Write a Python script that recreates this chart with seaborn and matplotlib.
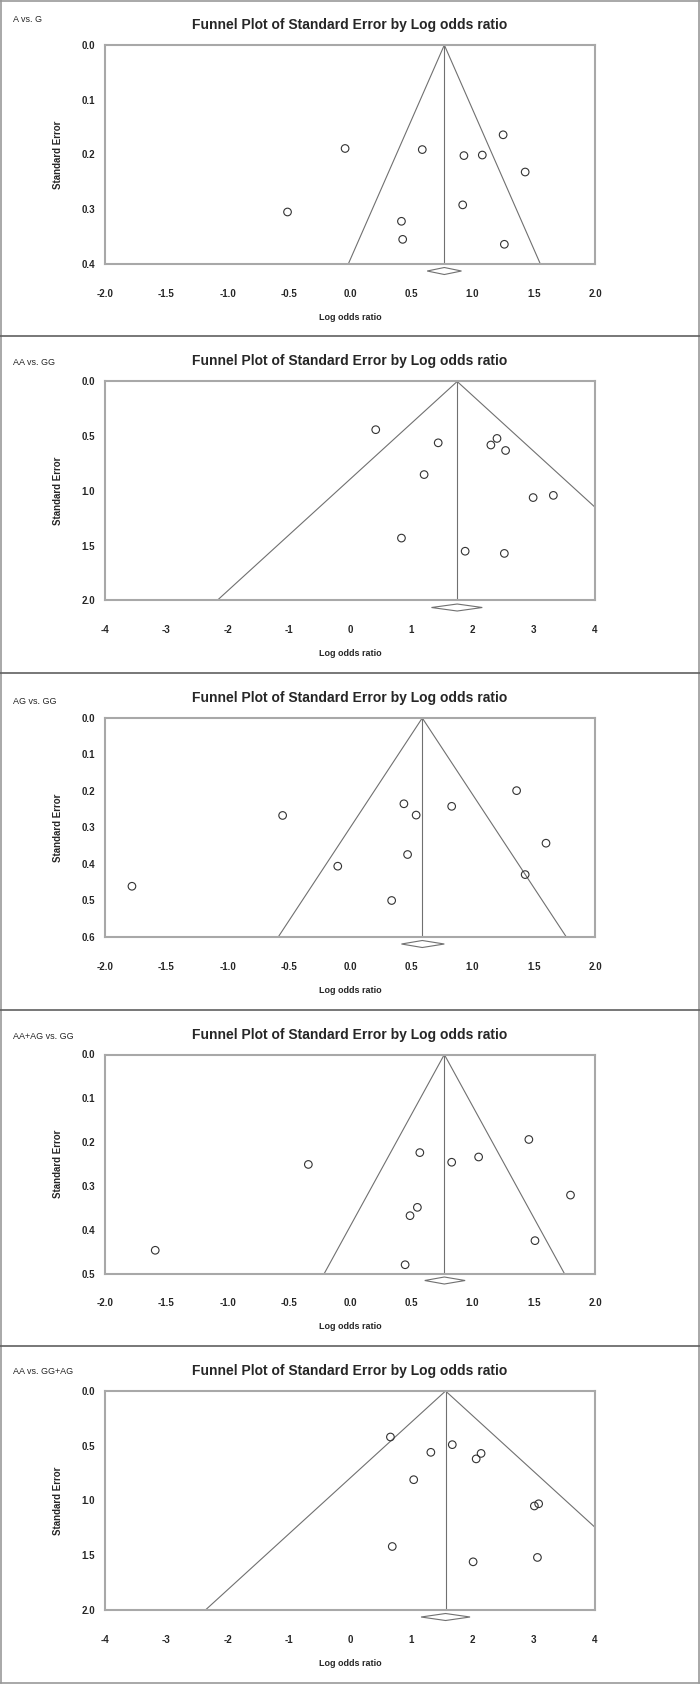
import numpy as np
import pandas as pd
import seaborn as sns
import matplotlib.pyplot as plt
from matplotlib.lines import Line2D

# %% Data

panel_names = ["A vs. G", "AA vs. GG", "AG vs. GG", "AA+AG vs. GG", "AA vs. GG+AG"]

lor_a_g = [1.25, -0.04, 0.59, 0.93, 1.08, 1.43, 0.92, -0.51, 0.42, 0.43, 1.26]
se_a_g = [0.164, 0.189, 0.191, 0.202, 0.201, 0.232, 0.292, 0.305, 0.322, 0.355, 0.364]

lor_aa_gg = [0.42, 1.44, 2.40, 2.30, 2.54, 1.21, 2.99, 3.32, 0.84, 1.88, 2.52]
se_aa_gg = [0.44, 0.56, 0.52, 0.58, 0.63, 0.85, 1.06, 1.04, 1.43, 1.55, 1.57]

lor_ag_gg = [1.36, 0.44, 0.83, -0.55, 0.54, 1.60, 0.47, -0.10, 1.43, -1.78, 0.34]
se_ag_gg = [0.199, 0.235, 0.242, 0.267, 0.266, 0.343, 0.374, 0.406, 0.429, 0.461, 0.500]

lor_dom = [1.46, 0.57, 1.05, 0.83, -0.34, 1.80, 0.55, 0.49, 1.51, -1.59, 0.45]
se_dom = [0.194, 0.224, 0.234, 0.246, 0.251, 0.321, 0.349, 0.368, 0.425, 0.447, 0.480]

lor_rec = [0.66, 1.67, 1.32, 2.14, 2.06, 1.04, 3.01, 3.08, 0.69, 3.06, 2.01]
se_rec = [0.42, 0.49, 0.56, 0.57, 0.62, 0.81, 1.05, 1.03, 1.42, 1.52, 1.56]

pooled_lor = [0.77, 1.75, 0.59, 0.77, 1.56]
pooled_lo = [0.63, 1.33, 0.42, 0.61, 1.16]
pooled_hi = [0.91, 2.16, 0.77, 0.94, 1.96]

x_limits = [(-2, 2), (-4, 4), (-2, 2), (-2, 2), (-4, 4)]
x_step = [0.5, 1, 0.5, 0.5, 1]
se_max = [0.4, 2.0, 0.6, 0.5, 2.0]
se_step = [0.1, 0.5, 0.1, 0.1, 0.5]

all_lor = [lor_a_g, lor_aa_gg, lor_ag_gg, lor_dom, lor_rec]
all_se = [se_a_g, se_aa_gg, se_ag_gg, se_dom, se_rec]

# %% Figure setup

W, H = 700, 1703
sns.set_style("white")
plt.rcParams["font.family"] = ["Liberation Sans", "DejaVu Sans"]
fig = plt.figure(figsize=(W / 100, H / 100), dpi=100)

ax_left, ax_right = 105, 595
ax_h = 219
panel_top = [0, 336.5, 673, 1009.5, 1346]
label_dy = [26, 19, 16, 18, 20]
spine_col = "#a8a8a8"
line_col = "#707070"


def fx(px):
    return px / W


def fy(py):
    return 1 - py / H


for i, name in enumerate(panel_names):
    top = panel_top[i] + 45
    ax = fig.add_axes([fx(ax_left), fy(top + ax_h), (ax_right - ax_left) / W, ax_h / H])

    df = pd.DataFrame({"lor": all_lor[i], "se": all_se[i]})
    sns.scatterplot(data=df, x="lor", y="se", ax=ax, marker="o", s=30,
                    facecolor="none", edgecolor="#333333", linewidth=0.8, zorder=3)

    m = pooled_lor[i]
    ymax = se_max[i]
    ax.plot([m - 1.96 * ymax, m, m + 1.96 * ymax], [ymax, 0, ymax],
            color=line_col, lw=0.8)
    ax.plot([m, m], [0, ymax], color=line_col, lw=0.8)

    # pooled estimate diamond below the axis
    trans = ax.get_xaxis_transform()
    ax.fill([pooled_lo[i], m, pooled_hi[i], m], [-0.032, -0.016, -0.032, -0.048],
            transform=trans, facecolor="white", edgecolor=line_col, lw=0.8, clip_on=False)

    x0, x1 = x_limits[i]
    ax.set_xlim(x0, x1)
    ax.set_ylim(ymax, 0)
    xt = np.arange(x0, x1 + 1e-9, x_step[i])
    yt = np.arange(0, ymax + 1e-9, se_step[i])
    ax.set_xticks(xt)
    ax.set_yticks(yt)
    if x_step[i] >= 1:
        ax.set_xticklabels([f"{v:.0f}" for v in xt])
    else:
        ax.set_xticklabels([f"{v:.1f}" for v in xt])
    ax.set_yticklabels([f"{v:.1f}" for v in yt])
    ax.tick_params(axis="x", direction="in", length=3, width=0.8, color=line_col,
                   pad=18, labelsize=7)
    ax.tick_params(axis="y", direction="in", length=2, width=0.8, color=line_col,
                   pad=7, labelsize=7)
    for lab in ax.get_xticklabels() + ax.get_yticklabels():
        lab.set_fontweight("bold")

    for sp in ax.spines.values():
        sp.set_color(spine_col)
        sp.set_linewidth(1.5)
        sp.set_visible(True)

    ax.set_xlabel("")
    ax.set_ylabel("")
    fig.text(fx(350), fy(top + 272), "Log odds ratio", ha="center", va="center",
             fontsize=6.5, fontweight="bold")
    fig.text(fx(58), fy(top + ax_h / 2), "Standard Error", ha="center", va="center",
             rotation=90, fontsize=7, fontweight="bold")
    fig.text(fx(350), fy(top - 20), "Funnel Plot of Standard Error by Log odds ratio",
             ha="center", va="center", fontsize=10, fontweight="bold")
    fig.text(fx(13), fy(top - label_dy[i]), name, ha="left", va="center", fontsize=6.5)

# panel borders
fig.add_artist(Line2D([fx(0.5), fx(0.5)], [fy(0), fy(1683)], color="#999999", lw=1.2))
fig.add_artist(Line2D([fx(699), fx(699)], [fy(0), fy(1683)], color="#999999", lw=1.2))
fig.add_artist(Line2D([fx(0), fx(700)], [fy(0.5), fy(0.5)], color="#999999", lw=1.2))
for py in panel_top[1:]:
    fig.add_artist(Line2D([fx(0), fx(700)], [fy(py), fy(py)], color="#606060", lw=1.2))
fig.add_artist(Line2D([fx(0), fx(700)], [fy(1683), fy(1683)], color="#999999", lw=1.2))

fig.savefig("out.png", dpi=100)
